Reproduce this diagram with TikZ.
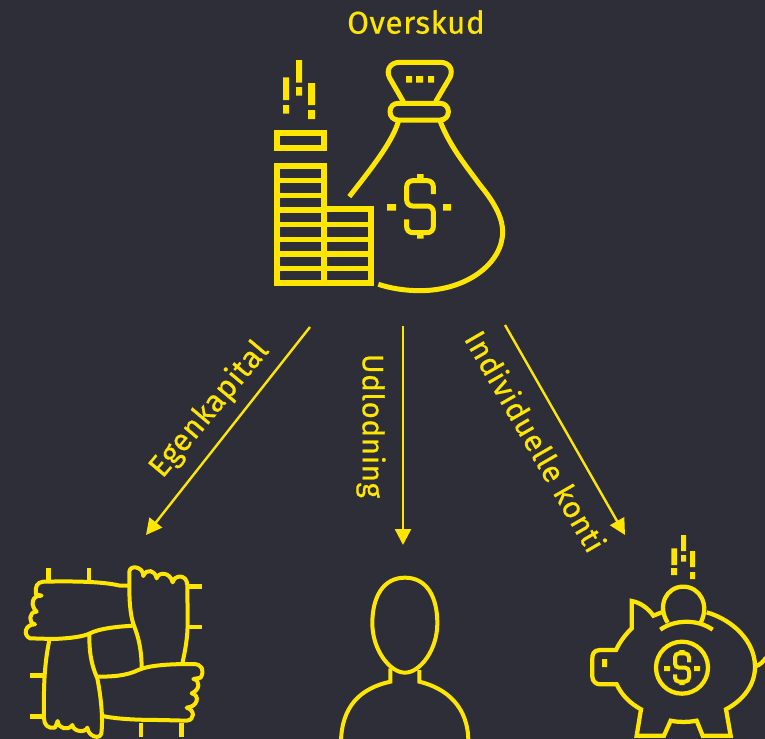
\documentclass[tikz,border=0pt]{standalone}
\usepackage{fontspec}
\setmainfont[LetterSpace=2,FakeBold=0.6]{Fira Sans}
\usetikzlibrary{arrows.meta}
\definecolor{bgc}{HTML}{2E2E38}
\definecolor{ylw}{HTML}{FFE600}
\tikzset{
  icon/.style={draw=ylw,line width=3.75pt,line join=miter},
  thin icon/.style={draw=ylw,line width=3pt,line cap=round,line join=round},
  pix/.style={fill=ylw,draw=none},
  lbl/.style={text=ylw,font=\fontsize{23}{27}\selectfont,inner sep=0pt},
  conn/.style={draw=ylw,line width=1.8pt,-{Triangle[length=12pt,width=12pt]},shorten >=0pt}
}
\begin{document}
\begin{tikzpicture}[x=0.75pt,y=-0.75pt]
\useasboundingbox (0,0) rectangle (765,739);
\fill[bgc] (0,0) rectangle (765,739);
\clip (0,0) rectangle (765,739);

% Money icon
\begin{scope}[shift={(260,50)},x=0.25pt,y=-0.25pt]
  \fill[pix,ylw] (69,82) rectangle (87,150) (69,165) rectangle (87,191)
    (108,30) rectangle (126,98) (108,111) rectangle (126,137)
    (144,99) rectangle (165,165) (144,180) rectangle (165,207);
  \draw[icon,line width=4.5pt] (52,248) rectangle (192,295);
  \draw[icon,line width=4.5pt] (52,348) rectangle (192,700);
  \foreach \yy in {392,436,480,524,568,612,656}
    \draw[draw=ylw,line width=4pt] (52,\yy) -- (192,\yy);
  \draw[icon,line width=4.5pt] (192,478) rectangle (332,700);
  \foreach \yy in {524,568,612,656}
    \draw[draw=ylw,line width=4pt] (192,\yy) -- (332,\yy);
  \draw[icon] (430,155) -- (388,82) .. controls (378,60) and (390,37) .. (420,37)
    -- (540,37) .. controls (570,37) and (580,60) .. (570,82) -- (527,155);
  \draw[icon,rounded corners=6pt] (390,160) rectangle (565,210);
  \fill[pix,ylw] (438,78) rectangle (456,98) (468,78) rectangle (489,98) (504,78) rectangle (522,98);
  \draw[icon] (415,215) .. controls (395,280) and (330,360) .. (268,440);
  \draw[icon] (541,215) .. controls (570,290) and (620,350) .. (660,405)
    .. controls (710,465) and (728,510) .. (728,545)
    .. controls (728,640) and (620,722) .. (480,722)
    .. controls (430,722) and (390,714) .. (355,703);
  \draw[icon,rounded corners=4.5pt] (520,432) -- (520,392) -- (440,392) -- (440,468) -- (520,468) -- (520,548) -- (440,548) -- (440,508);
  \fill[pix,ylw] (471,372) rectangle (491,392) (471,548) rectangle (491,566)
    (381,462) rectangle (408,482) (549,462) rectangle (573,482);
\end{scope}

% Hands icon
\begin{scope}[shift={(10,555)},x=0.25pt,y=-0.25pt]
  \draw[thin icon] (355,92) -- (330,92) .. controls (280,80) and (200,78) .. (100,80)
    .. controls (80,82) and (75,95) .. (78,118) -- (95,122)
    .. controls (62,120) and (62,155) .. (80,170)
    .. controls (55,170) and (55,205) .. (75,208)
    .. controls (45,208) and (38,240) .. (60,250) -- (130,252)
    .. controls (180,250) and (220,245) .. (240,235)
    .. controls (270,220) and (320,215) .. (370,212);
  \draw[thin icon] (400,62) .. controls (400,35) and (360,28) .. (358,50) -- (358,92)
    .. controls (358,150) and (362,190) .. (375,220)
    .. controls (390,260) and (395,300) .. (395,340);
  \draw[thin icon] (400,62) .. controls (410,40) and (435,45) .. (440,70)
    .. controls (445,50) and (480,50) .. (488,82)
    .. controls (492,60) and (530,55) .. (532,90) -- (533,200)
    .. controls (533,250) and (525,290) .. (517,325);
  \draw[thin icon] (265,365) .. controls (310,365) and (350,362) .. (385,345)
    .. controls (420,330) and (480,327) .. (550,327)
    .. controls (575,327) and (585,345) .. (572,368) -- (550,372)
    .. controls (572,375) and (570,405) .. (545,415)
    .. controls (570,420) and (565,455) .. (530,458)
    .. controls (555,465) and (555,495) .. (530,497) -- (450,495)
    .. controls (380,495) and (320,492) .. (278,483);
  \draw[thin icon] (118,255) .. controls (105,320) and (100,380) .. (102,490)
    .. controls (102,510) and (115,522) .. (135,518) -- (143,498)
    .. controls (145,522) and (175,528) .. (187,510)
    .. controls (190,530) and (225,535) .. (232,518)
    .. controls (235,545) and (270,555) .. (274,535)
    .. controls (280,490) and (272,420) .. (262,370)
    .. controls (240,320) and (238,280) .. (238,240);
  \foreach \ax/\ay/\bx/\by in {115/40/115/78,237/40/237/78,535/94/576/94,535/216/576/216,60/362/100/362,60/484/100/484,393/503/393/545,515/503/515/545}
    \draw[draw=ylw,line width=3.5pt] (\ax,\ay) -- (\bx,\by);
\end{scope}

% Person icon
\begin{scope}[shift={(330,560)},x=0.25pt,y=-0.25pt]
  \draw[thin icon] (225,53) .. controls (290,53) and (322,110) .. (322,190)
    .. controls (322,270) and (270,338) .. (225,338)
    .. controls (180,338) and (127,270) .. (127,190)
    .. controls (127,110) and (160,53) .. (225,53) -- cycle;
  \draw[thin icon,line cap=butt,line join=miter] (181,325) -- (181,365) .. controls (90,385) and (35,440) .. (33,545);
  \draw[thin icon,line cap=butt,line join=miter] (268,330) -- (268,365) .. controls (350,385) and (415,440) .. (415,545);
\end{scope}

% Piggy icon
\begin{scope}[shift={(580,525)},x=0.25pt,y=-0.25pt]
  \fill[pix,ylw] (274,70) rectangle (291,120) (273,129) rectangle (291,150)
    (303,30) rectangle (318,78) (303,90) rectangle (318,110)
    (330,78) rectangle (345,126) (330,141) rectangle (345,162)
    (66,402) rectangle (81,426);
  \draw[icon,line width=3.2pt] (263,293) .. controls (230,240) and (260,185) .. (310,185)
    .. controls (360,185) and (390,240) .. (362,293);
  \draw[icon,line width=3.2pt] (241,314) .. controls (280,285) and (350,280) .. (398,314);
  \draw[icon,line width=3.2pt] (245,262) -- (220,272) .. controls (205,250) and (180,232) .. (155,228)
    -- (155,310) .. controls (135,330) and (120,350) .. (108,375) -- (60,375)
    .. controls (40,375) and (37,390) .. (37,400) -- (37,455)
    .. controls (37,470) and (50,478) .. (60,478) -- (110,478)
    .. controls (125,510) and (150,535) .. (183,553) -- (170,632) -- (252,632) -- (272,587)
    .. controls (295,592) and (325,592) .. (350,587) -- (368,632) -- (452,632) -- (438,553)
    .. controls (490,525) and (525,480) .. (525,425)
    .. controls (525,350) and (460,285) .. (380,262);
  \draw[icon,line width=3.2pt] (526,424) .. controls (540,420) and (550,410) .. (558,398);
  \draw[icon,line width=3.2pt] (306,428) circle [radius=78];
  \draw[icon,line width=3pt,rounded corners=3pt] (327,412) -- (327,385) -- (285,385) -- (285,428) -- (327,428) -- (327,470) -- (285,470) -- (285,448);
  \fill[pix,ylw] (298,375) rectangle (314,385) (298,470) rectangle (314,480)
    (252,423) rectangle (270,438) (342,423) rectangle (360,438);
\end{scope}

% Connector end points
\coordinate (topL) at (310,327);
\coordinate (topM) at (403,326);
\coordinate (topR) at (505,325);
\coordinate (hands) at (146,535);
\coordinate (person) at (403,545);
\coordinate (piggy) at (625,535);
\draw[conn] (topL) -- (hands);
\draw[conn] (topM) -- (person);
\draw[conn] (topR) -- (piggy);

% Labels
\node[lbl,font=\fontsize{23.5}{27}\selectfont] (over) at (416,22) {Overskud};
\node[lbl,rotate=50] (egen) at (209.5,409.5) {Egenkapital};
\node[lbl,font=\fontsize{22.2}{27}\selectfont,rotate=-90] (udl) at (371,426) {Udlodning};
\node[lbl,font=\fontsize{22.6}{27}\selectfont,rotate=-60] (indi) at (536,441) {Individuelle konti};
\end{tikzpicture}
\end{document}
